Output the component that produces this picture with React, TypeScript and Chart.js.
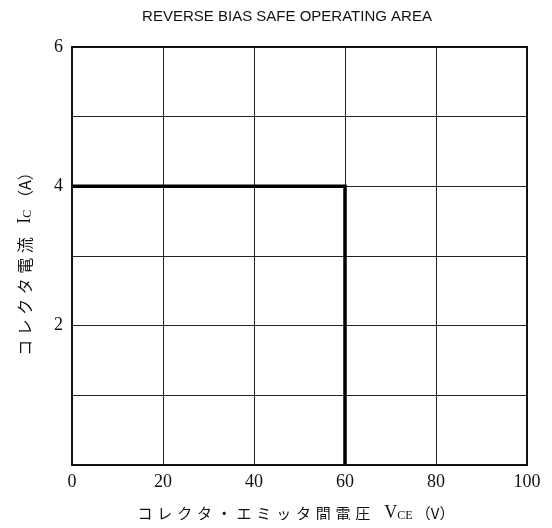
import React, { useEffect, useRef } from "react";
import { Chart, registerables } from "chart.js";

Chart.register(...registerables);

const chartTitle = "REVERSE BIAS SAFE OPERATING AREA";
const xAxisLabelJa = "コレクタ・エミッタ間電圧";
const yAxisLabelJa = "コレクタ電流";
const xTicks = [0, 20, 40, 60, 80, 100];
const yTickLabels = [2, 4, 6];
const soaVce = [0, 60, 60];
const soaIc = [4, 4, 0];

type Seg = { text: string; font: string; dy?: number; spacing?: number };

function drawSegs(ctx: CanvasRenderingContext2D, segs: Seg[]) {
  let total = 0;
  const widths: number[] = [];
  for (const s of segs) {
    ctx.font = s.font;
    (ctx as any).letterSpacing = (s.spacing || 0) + "px";
    const w = ctx.measureText(s.text).width;
    widths.push(w);
    total += w;
  }
  let x = -total / 2;
  segs.forEach((s, i) => {
    ctx.font = s.font;
    (ctx as any).letterSpacing = (s.spacing || 0) + "px";
    ctx.fillText(s.text, x, s.dy || 0);
    x += widths[i];
  });
  (ctx as any).letterSpacing = "0px";
}

const textPlugin = {
  id: "customText",
  afterDraw(chart: any) {
    const ctx: CanvasRenderingContext2D = chart.ctx;
    ctx.save();
    ctx.fillStyle = "#111";
    ctx.textBaseline = "middle";
    ctx.textAlign = "left";
    // title
    ctx.save();
    ctx.translate(279, 9);
    drawSegs(ctx, [{ text: chartTitle, font: "15px 'Liberation Sans'" }]);
    ctx.restore();
    // x axis title
    ctx.save();
    ctx.translate(288, 505);
    drawSegs(ctx, [
      { text: xAxisLabelJa, font: "15px 'Noto Sans CJK JP'", spacing: 4.8 },
      { text: "  V", font: "18px 'Liberation Serif'" },
      { text: "CE", font: "12px 'Liberation Serif'", dy: 3 },
      { text: " （V）", font: "15px 'Noto Sans CJK JP'" },
    ]);
    ctx.restore();
    // y axis title
    ctx.save();
    ctx.translate(17, 252);
    ctx.rotate(-Math.PI / 2);
    drawSegs(ctx, [
      { text: yAxisLabelJa, font: "16px 'Noto Sans CJK JP'", spacing: 4.5 },
      { text: "  I", font: "18px 'Liberation Serif'" },
      { text: "C", font: "12px 'Liberation Serif'", dy: 3 },
      { text: " （A）", font: "16px 'Noto Sans CJK JP'" },
    ]);
    ctx.restore();
    ctx.restore();
  },
};

export default function App() {
  const ref = useRef<HTMLCanvasElement | null>(null);
  useEffect(() => {
    if (!ref.current) return;
    const chart = new Chart(ref.current, {
      type: "scatter",
      data: {
        datasets: [
          {
            data: soaVce.map((v, i) => ({ x: v, y: soaIc[i] })),
            showLine: true,
            borderColor: "#000",
            borderWidth: 3.5,
            pointRadius: 0,
            fill: false,
          },
        ],
      },
      options: {
        animation: false,
        responsive: true,
        maintainAspectRatio: false,
        layout: { padding: { top: 39, right: 17, bottom: 0, left: 0 } },
        plugins: {
          legend: { display: false },
          title: { display: false },
          tooltip: { enabled: false },
        },
        scales: {
          x: {
            type: "linear",
            min: 0,
            max: 100,
            afterBuildTicks: (scale: any) => {
              scale.ticks = xTicks.map((v) => ({ value: v }));
            },
            afterFit: (scale: any) => {
              scale.height = 55;
              scale.paddingRight = 0;
              scale.paddingLeft = 0;
            },
            ticks: {
              color: "#111",
              font: { family: "'Liberation Serif'", size: 18 },
              padding: 6,
              maxRotation: 0,
            },
            grid: { color: "#222", lineWidth: 1, drawTicks: false },
            border: { color: "#111", width: 2 },
          },
          y: {
            type: "linear",
            min: 0,
            max: 6,
            ticks: {
              stepSize: 1,
              color: "#111",
              font: { family: "'Liberation Serif'", size: 18 },
              padding: 9,
              callback: (v: any) => (yTickLabels.includes(Number(v)) ? String(v) : ""),
            },
            afterFit: (scale: any) => {
              scale.width = 64;
              scale.paddingTop = 0;
              scale.paddingBottom = 0;
            },
            grid: { color: "#222", lineWidth: 1, drawTicks: false },
            border: { color: "#111", width: 2 },
          },
        },
      },
      plugins: [
        textPlugin,
        {
          id: "frame",
          afterDatasetsDraw(c: any) {
            const { left, right, top, bottom } = c.chartArea;
            const ctx = c.ctx;
            ctx.save();
            ctx.strokeStyle = "#111";
            ctx.lineWidth = 2;
            ctx.strokeRect(left, top, right - left, bottom - top);
            ctx.restore();
          },
        },
      ],
    } as any);
    return () => chart.destroy();
  }, []);
  return (
    <div style={{ width: 536, height: 512, position: "relative", background: "#fff" }}>
      <canvas ref={ref} />
    </div>
  );
}
